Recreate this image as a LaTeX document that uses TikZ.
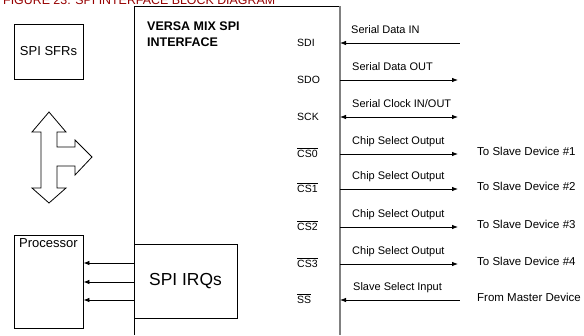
\documentclass[tikz,border=0pt]{standalone}
\usepackage{fontspec}
\setmainfont{Liberation Sans}
\usetikzlibrary{arrows.meta}
\definecolor{titlered}{RGB}{150,0,0}
\definecolor{edgegray}{RGB}{128,128,128}
\newcommand{\ovl}[1]{$\overline{\hbox{#1}}$}

\begin{document}
\begin{tikzpicture}[x=1pt, y=-1pt,
  >={Latex[length=6pt,width=4.5pt]},
  box/.style={draw, line width=0.8pt, inner sep=0pt},
  pin/.style={anchor=base west, inner sep=0pt, font=\fontsize{10.5}{12}\selectfont},
  sig/.style={anchor=base west, inner sep=0pt, font=\fontsize{11}{13}\selectfont},
  dev/.style={anchor=base west, inner sep=0pt, font=\fontsize{11.5}{13}\selectfont},
  wire/.style={line width=0.8pt}]
\useasboundingbox (0,0) rectangle (584,335);
\clip (0,0) rectangle (584,335);

% caption, cut off at the top
\node[anchor=base west, inner sep=0pt, text=titlered,
  font=\fontsize{12.4}{14}\selectfont] (caption) at (3,4) {FIGURE 23: SPI INTERFACE BLOCK DIAGRAM};

% left side
\node[box, minimum width=69pt, minimum height=55pt,
  font=\fontsize{13}{15}\selectfont] (sfr) at (48.5,51.5) {SPI SFRs};
\node[box, minimum width=69pt, minimum height=93pt,
  label={[anchor=north, inner sep=0pt, yshift=-4pt, font=\fontsize{13}{15}\selectfont]north:Processor}] (proc) at (48.5,281.5) {};
\draw[line width=0.8pt] (49,112) -- (66,132) -- (57,132) -- (57,147) -- (75,147) -- (75,140)
  -- (92,157) -- (75,175) -- (75,166) -- (57,166) -- (57,188) -- (66,188) -- (49,203)
  -- (32,188) -- (41,188) -- (41,132) -- (32,132) -- cycle;

% interface block
\draw[line width=0.8pt] (134,335) -- (134,6) -- (340,6);
\draw[edgegray, line width=1.2pt] (340,6) -- (340,335);
\node[anchor=north west, align=left, inner sep=0pt,
  font=\fontsize{12.5}{15.7}\selectfont\bfseries] (title) at (147,21.7) {VERSA MIX SPI\\INTERFACE};
\node[box, minimum width=103pt, minimum height=74pt,
  font=\fontsize{17.4}{20}\selectfont] (irq) at (185.5,281) {SPI IRQs};
\foreach \y in {263,282,300}
  \draw[wire,->] (irq.west |- 0,\y) -- (proc.east |- 0,\y);

% serial lines
\node[pin] (sdi) at (297,46) {SDI};
\node[pin] (sdo) at (297,83) {SDO};
\node[pin] (sck) at (297,120) {SCK};
\node[pin] (ss) at (297,303) {\ovl{SS}};
\coordinate (sdi-a) at (340,43);  \coordinate (sdi-b) at (460,43);
\coordinate (sdo-a) at (340,80);  \coordinate (sdo-b) at (458,80);
\coordinate (sck-a) at (340,117); \coordinate (sck-b) at (458,117);
\coordinate (ss-a) at (340,300);  \coordinate (ss-b) at (460,300);
\draw[wire,<-] (sdi-a) -- (sdi-b);
\draw[wire,->] (sdo-a) -- (sdo-b);
\draw[wire,<->] (sck-a) -- (sck-b);
\draw[wire,<-] (ss-a) -- (ss-b);
\node[sig] (sdi-lbl) at (351,33) {Serial Data IN};
\node[sig] (sdo-lbl) at (352,70) {Serial Data OUT};
\node[sig] (sck-lbl) at (352,107) {Serial Clock IN/OUT};
\node[sig] (ss-lbl) at (353,290) {Slave Select Input};
\node[dev] (master) at (477,301.5) {From Master Device};

% chip selects
\foreach \i/\y/\n in {0/154/1, 1/189/2, 2/227/3, 3/264/4} {
  \node[pin] (cs\i) at (297,\y+3) {\ovl{CS\i}};
  \coordinate (cs\i-a) at (340,\y);
  \coordinate (cs\i-b) at (458,\y);
  \draw[wire,->] (cs\i-a) -- (cs\i-b);
  \node[sig] (cs\i-lbl) at (352,\y-10) {Chip Select Output};
  \node[dev] (slave\n) at (477,\y+1.5) {To Slave Device \#\n};
}
\end{tikzpicture}
\end{document}
